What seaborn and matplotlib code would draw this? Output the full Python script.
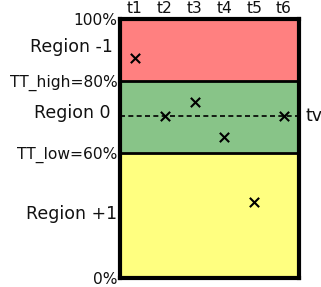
import matplotlib
matplotlib.use("Agg")
import matplotlib.pyplot as plt
import seaborn as sns
import pandas as pd

# schematic axis: 0..100, threshold lines at fixed schematic positions
times = ["t1", "t2", "t3", "t4", "t5", "t6"]
values = [85, 62.5, 68, 54.5, 29.5, 62.5]
tick_pos = [0, 48.3, 76.1, 100]
tick_labels = ["0%", "TT_low=60%", "TT_high=80%", "100%"]
tv_level = 62.5
regions = ["Region -1", "Region 0", "Region +1"]
region_bounds = [(76.1, 100), (48.3, 76.1), (0, 48.3)]
region_label_y = [89.2, 63.7, 24.7]
region_colors = ["#ff8080", "#88c488", "#ffff80"]

sns.set_theme(style="white")
plt.rcParams["font.family"] = ["DejaVu Sans"]

fig = plt.figure(figsize=(3.21, 2.87), dpi=100)
ax = fig.add_axes([0.374, 0.031, 0.557, 0.903])

for (lo, hi), col in zip(region_bounds, region_colors):
    ax.axhspan(lo, hi, color=col, zorder=0)
for y in tick_pos[1:3]:
    ax.axhline(y, color="black", lw=2, zorder=1)
ax.axhline(tv_level, color="black", lw=1.2, ls=(0, (3, 2)), zorder=1)

df = pd.DataFrame({"x": range(1, len(times) + 1), "y": values})
sns.scatterplot(data=df, x="x", y="y", marker="x", s=45, color="black",
                linewidth=1.5, ax=ax, zorder=3)

ax.set_xlim(0.5, 6.5)
ax.set_ylim(0, 100)
ax.xaxis.tick_top()
ax.set_xticks(range(1, len(times) + 1))
ax.set_xticklabels(times)
ax.set_yticks(tick_pos)
ax.set_yticklabels(tick_labels)
ax.tick_params(axis="both", length=0, pad=2, labelsize=11.2, colors="#111111")
ax.set_xlabel("")
ax.set_ylabel("")
for s in ax.spines.values():
    s.set_color("black")
    s.set_linewidth(3)

for name, y in zip(regions, region_label_y):
    ax.text(-0.27, y, name, transform=ax.get_yaxis_transform(), ha="center",
            va="center", fontsize=12.5, color="#111111")
ax.text(1.035, tv_level, "tv", transform=ax.get_yaxis_transform(), ha="left",
        va="center", fontsize=12.5, color="#111111")

fig.savefig("out.png", dpi=100)
